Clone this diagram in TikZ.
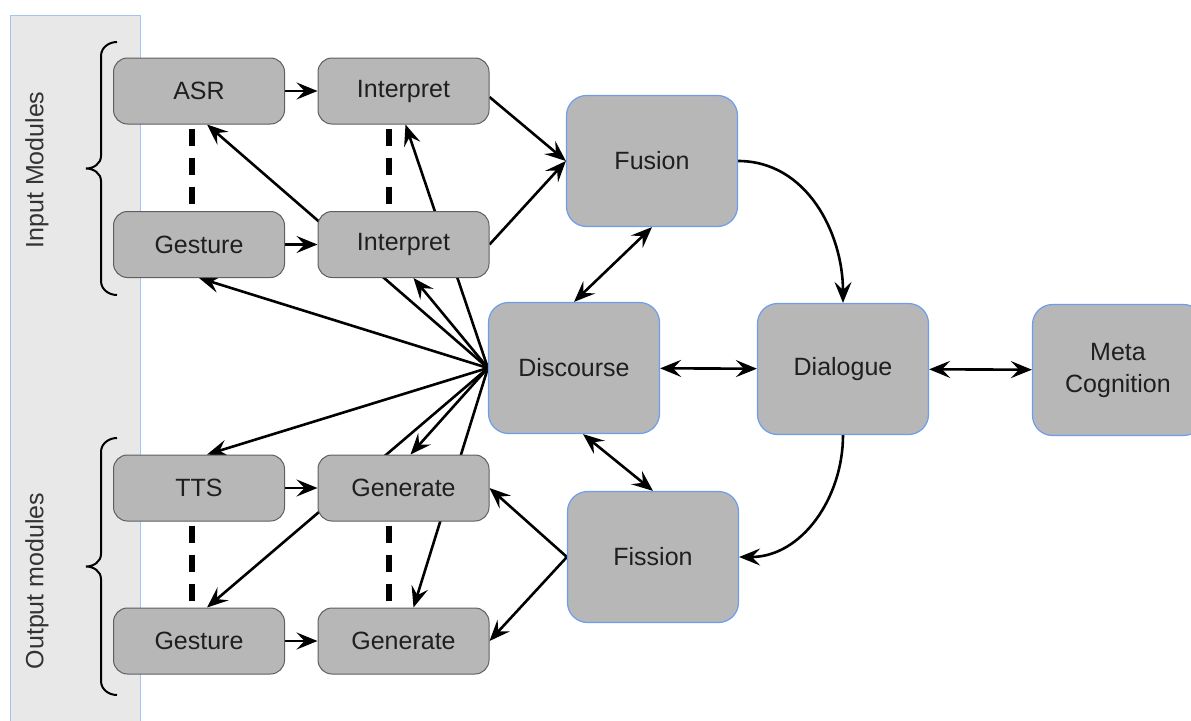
\documentclass[tikz,border=0pt]{standalone}
\usepackage{fontspec}
\setmainfont{Liberation Sans}
\usetikzlibrary{arrows.meta,backgrounds}

\definecolor{boxgray}{RGB}{183,183,183}
\definecolor{rimgray}{RGB}{95,95,95}
\definecolor{rimblue}{RGB}{109,158,235}
\definecolor{panelgray}{RGB}{232,232,232}
\definecolor{panelblue}{RGB}{164,194,244}

\tikzset{
    modbox/.style={draw=rimgray, fill=boxgray, line width=1pt,
        rounded corners=14pt, minimum width=171pt, minimum height=66pt,
        inner sep=0pt, text=black!88, font=\fontsize{25}{30}\selectfont},
    corebox/.style={draw=rimblue, fill=boxgray, line width=1.2pt,
        rounded corners=20pt, minimum width=171pt, minimum height=131pt,
        inner sep=0pt, align=center, text=black!88,
        font=\fontsize{25}{32}\selectfont},
    bigtip/.tip={Stealth[length=21pt,width=17pt,inset=8pt]},
    link/.style={line width=2.6pt, -bigtip},
    twoway/.style={line width=2.6pt, bigtip-bigtip},
    pairline/.style={line width=6pt, dash pattern=on 17pt off 12pt, dash phase=-4pt},
}

\begin{document}
\begin{tikzpicture}[x=1pt, y=-1pt]
    \useasboundingbox (0,0) rectangle (1191,720);
    \clip (0,0) rectangle (1191,720);

    % input side
    \node[modbox] (asr) at (199,91) {ASR};
    \node[modbox] (int1) at (403.5,91) {Interpret};
    \node[modbox] (ges1) at (199,244.5) {Gesture};
    \node[modbox] (int2) at (403.5,244.5) {Interpret};

    % output side
    \node[modbox] (tts) at (199,488) {TTS};
    \node[modbox] (gen1) at (403.5,488) {Generate};
    \node[modbox] (ges2) at (199,641) {Gesture};
    \node[modbox] (gen2) at (403.5,641) {Generate};

    % core
    \node[corebox] (fus) at (652,161) {Fusion};
    \node[corebox] (disc) at (574,368) {Discourse};
    \node[corebox] (dial) at (843,369) {Dialogue};
    \node[corebox] (meta) at (1118,370) {Meta\\Cognition};
    \node[corebox] (fis) at (653,557) {Fission};

    \begin{pgfonlayer}{background}
        \draw[panelblue, fill=panelgray, line width=1pt] (10,15) rectangle (140,740);
        \node[rotate=90, text=black!80, font=\fontsize{25}{30}\selectfont] (inlab) at (37,170) {Input Modules};
        \node[rotate=90, text=black!80, font=\fontsize{25}{30}\selectfont] (outlab) at (37,581) {Output modules};

        % braces
        \draw[line width=2pt] (117,42) to[out=180, in=90] (101,56) -- (101,156)
            to[out=-90, in=0] (86,168.5) to[out=0, in=90] (101,181) -- (101,281)
            to[out=-90, in=180] (117,295);
        \draw[line width=2pt] (117,438) to[out=180, in=90] (101,452) -- (101,554)
            to[out=-90, in=0] (86,566.5) to[out=0, in=90] (101,579) -- (101,681)
            to[out=-90, in=180] (117,695);

        \draw[pairline] ([xshift=-7pt]asr.south) -- ([xshift=-7pt]ges1.north);
        \draw[pairline] ([xshift=-14.5pt]int1.south) -- ([xshift=-14.5pt]int2.north);
        \draw[pairline] ([xshift=-7pt]tts.south) -- ([xshift=-7pt]ges2.north);
        \draw[pairline] ([xshift=-14.5pt]gen1.south) -- ([xshift=-14.5pt]gen2.north);

        \draw[link] (asr) -- (int1);
        \draw[link] (ges1) -- (int2);
        \draw[link] (tts) -- (gen1);
        \draw[link] (ges2) -- (gen2);

        \draw[link] ([yshift=-6pt]int1.east) -- (fus.west);
        \draw[link] (int2.east) -- (fus.west);

        % discourse fans out to every module
        \draw[link] (disc.west) -- ([xshift=8pt]asr.south);
        \draw[link] (disc.west) -- ([xshift=2pt]int1.south);
        \draw[link] (disc.west) -- (ges1.south);
        \draw[link] (disc.west) -- ([xshift=10pt]int2.south);
        \draw[link] (disc.west) -- ([xshift=8pt]tts.north);
        \draw[link] (disc.west) -- ([xshift=7pt]gen1.north);
        \draw[link] (disc.west) -- ([xshift=8pt]ges2.north);
        \draw[link] (disc.west) -- ([xshift=10pt]gen2.north);

        \draw[link] (fis.west) -- (gen1.east);
        \draw[link] (fis.west) -- (gen2.east);

        \draw[twoway] (fus.south) -- (disc.north);
        \draw[twoway] ([xshift=9pt]disc.south) -- (fis.north);
        \draw[twoway] (disc) -- (dial);
        \draw[twoway] (dial) -- (meta);

        \draw[link] (fus.east) to[out=0, in=90] (dial.north);
        \draw[link] (dial.south) to[out=-90, in=0] (fis.east);
    \end{pgfonlayer}
\end{tikzpicture}
\end{document}
